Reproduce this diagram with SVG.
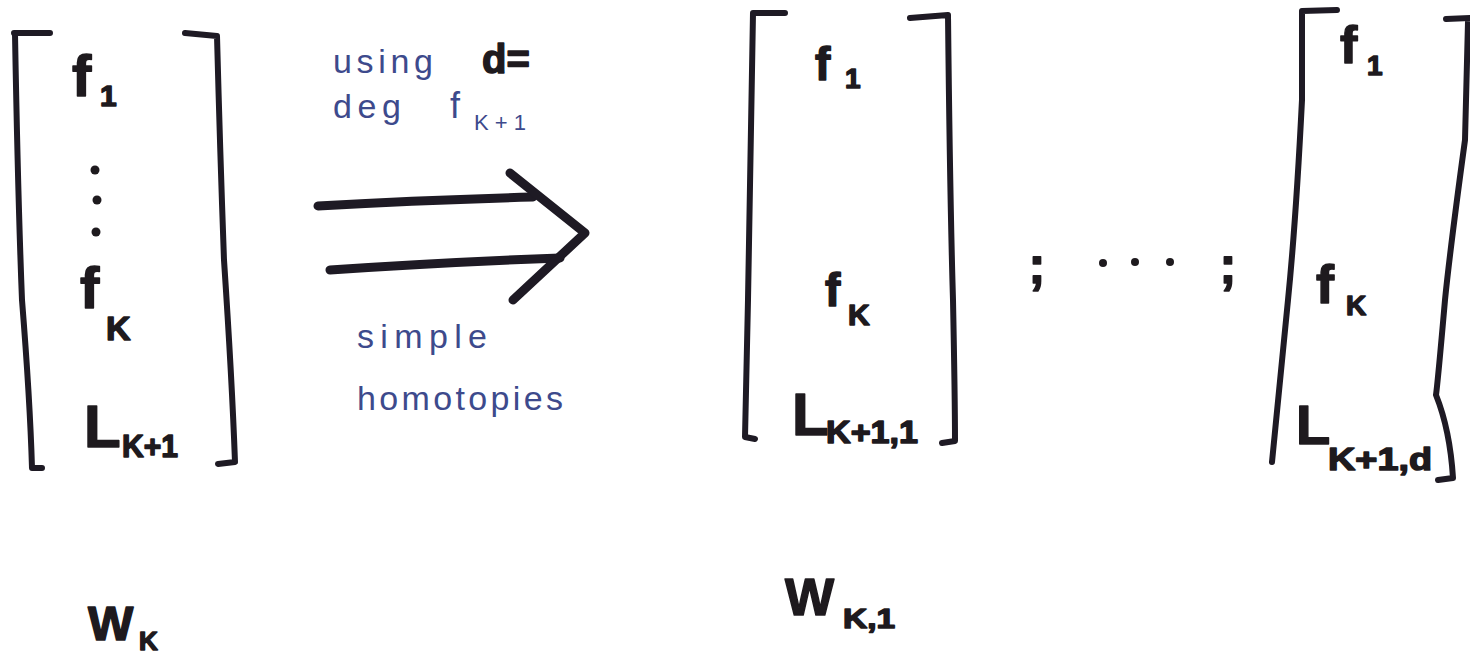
<svg xmlns="http://www.w3.org/2000/svg" width="1470" height="656" viewBox="0 0 1470 656">
  <style>
    .br { fill: none; stroke: #1e1a24; stroke-width: 6; stroke-linecap: round; stroke-linejoin: round; }
    .ink { font-family: "Liberation Sans", "DejaVu Sans", sans-serif; font-weight: bold; fill: #1e1a1e; stroke: #1e1a1e; stroke-width: 1.5; stroke-linejoin: round; }
    .blue { font-family: "Liberation Sans", "DejaVu Sans", sans-serif; fill: #3d4a8c; }
    .arr { fill: none; stroke: #1e1a24; stroke-width: 9; stroke-linecap: round; stroke-linejoin: round; }
  </style>
  <rect width="1470" height="656" fill="#ffffff"/>

  <!-- Matrix W_K -->
  <g id="matrix-wk">
    <path class="br" d="M14,33 L50,33 M15,34 Q18,200 22,300 Q30,400 32,468 L42,468"/>
    <path class="br" d="M185,33 L217,36 Q220,150 224,260 Q232,380 235,462 L218,464"/>
    <text class="ink" x="72" y="96" font-size="58">f</text>
    <text class="ink" x="100" y="106" font-size="30">1</text>
    <circle cx="95" cy="170" r="4.5" fill="#1e1a1e"/>
    <circle cx="97" cy="200" r="4.5" fill="#1e1a1e"/>
    <circle cx="96" cy="232" r="4.5" fill="#1e1a1e"/>
    <text class="ink" x="80" y="308" font-size="58">f</text>
    <text class="ink" x="106" y="340" font-size="34">K</text>
    <text class="ink" x="84" y="447" font-size="60">L</text>
    <text class="ink" x="122" y="457" font-size="32" textLength="56" lengthAdjust="spacingAndGlyphs">K+1</text>
  </g>

  <!-- Connector: double arrow with labels -->
  <g id="connectors">
    <path class="arr" d="M318,206 Q420,200 533,197"/>
    <path class="arr" d="M330,270 Q450,262 560,258"/>
    <path class="arr" d="M510,173 L585,233 L513,300"/>
    <text class="blue" x="333" y="73" font-size="34" textLength="100" lengthAdjust="spacing">using</text>
    <text class="ink" x="482" y="73" font-size="40">d=</text>
    <text class="blue" x="333" y="118" font-size="34" textLength="68" lengthAdjust="spacing">deg</text>
    <text class="blue" x="450" y="118" font-size="36">f</text>
    <text class="blue" x="474" y="130" font-size="22" textLength="52" lengthAdjust="spacing">K+1</text>
    <text class="blue" x="357" y="348" font-size="34" textLength="130" lengthAdjust="spacing">simple</text>
    <text class="blue" x="357" y="410" font-size="34" textLength="206" lengthAdjust="spacing">homotopies</text>
  </g>

  <!-- Matrix W_{K,1} -->
  <g id="matrix-wk1">
    <path class="br" d="M785,13 L753,13 Q750,200 748,300 Q746,400 745,437 L755,439"/>
    <path class="br" d="M910,18 L948,15 Q950,200 953,300 Q955,400 955,441 L942,443"/>
    <text class="ink" x="815" y="80" font-size="46">f</text>
    <text class="ink" x="845" y="88" font-size="28">1</text>
    <text class="ink" x="825" y="306" font-size="46">f</text>
    <text class="ink" x="848" y="325" font-size="30">K</text>
    <text class="ink" x="792" y="435" font-size="60">L</text>
    <text class="ink" x="826" y="443" font-size="32" textLength="92" lengthAdjust="spacingAndGlyphs">K+1,1</text>
  </g>

  <!-- Separator ; ... ; -->
  <g id="separator">
    <text class="ink" x="1037" y="283" font-size="52" text-anchor="middle">;</text>
    <circle cx="1103" cy="263" r="4" fill="#1e1a1e"/>
    <circle cx="1135" cy="262" r="4" fill="#1e1a1e"/>
    <circle cx="1170" cy="262" r="4" fill="#1e1a1e"/>
    <text class="ink" x="1228" y="283" font-size="52" text-anchor="middle">;</text>
  </g>

  <!-- Matrix W_{K,d} -->
  <g id="matrix-wkd">
    <path class="br" d="M1337,10 L1302,11 Q1302,60 1302,100 Q1296,220 1288,300 Q1280,380 1272,462"/>
    <path class="br" d="M1446,19 L1470,18 M1468,22 Q1466,100 1465,140 Q1450,250 1445,300 Q1438,380 1436,395 Q1450,430 1453,478 L1438,480"/>
    <text class="ink" x="1340" y="63" font-size="52">f</text>
    <text class="ink" x="1367" y="75" font-size="28">1</text>
    <text class="ink" x="1316" y="303" font-size="54">f</text>
    <text class="ink" x="1346" y="315" font-size="28">K</text>
    <text class="ink" x="1296" y="444" font-size="56">L</text>
    <text class="ink" x="1328" y="470" font-size="32" textLength="104" lengthAdjust="spacingAndGlyphs">K+1,d</text>
  </g>

  <!-- Bottom labels -->
  <g id="label-wk">
    <text class="ink" x="88" y="640" font-size="48">W</text>
    <text class="ink" x="139" y="650" font-size="26">K</text>
  </g>
  <g id="label-wk1">
    <text class="ink" x="785" y="615" font-size="52">W</text>
    <text class="ink" x="843" y="628" font-size="28" textLength="52" lengthAdjust="spacingAndGlyphs">K,1</text>
  </g>
</svg>
